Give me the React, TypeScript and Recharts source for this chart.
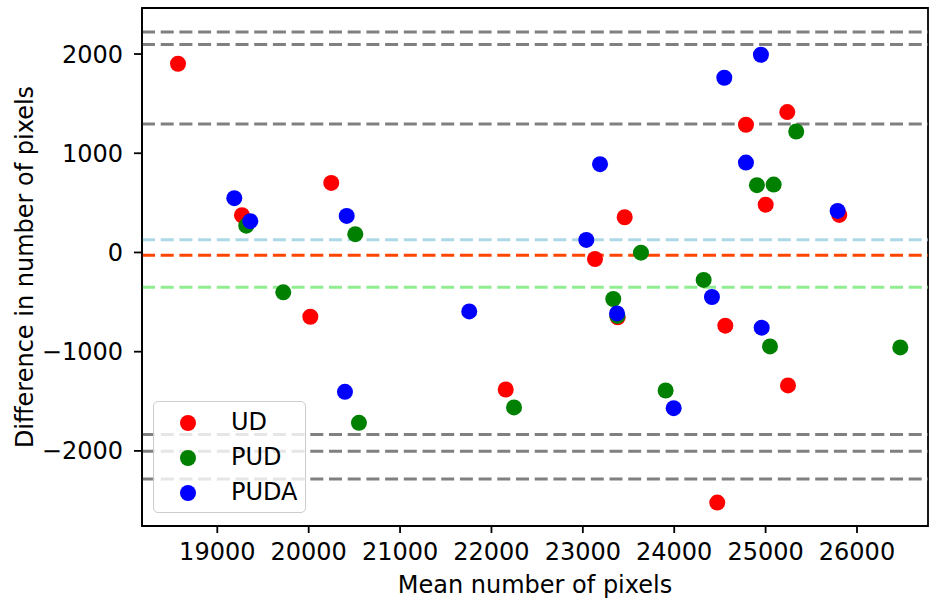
import React from 'react';
import { ScatterChart, Scatter, XAxis, YAxis, ReferenceLine, ReferenceArea, Legend, Label } from 'recharts';

const udX = [18570, 19270, 20247, 20018, 22156, 23133, 23458, 23381, 24471, 24559, 24785, 25001, 25237, 25245, 25806];
const udY = [1902, 375, 701, -648, -1381, -66, 355, -654, -2521, -738, 1287, 482, 1415, -1340, 378];

const pudX = [19317, 19722, 20510, 20550, 22247, 23333, 23378, 23636, 23906, 24322, 24905, 25048, 25088, 25335, 26474];
const pudY = [270, -402, 184, -1717, -1562, -469, -640, -2, -1391, -277, 678, -947, 684, 1219, -957];

const pudaX = [19186, 19361, 20397, 20416, 21757, 23038, 23188, 23374, 23994, 24413, 24548, 24785, 24949, 24957, 25788];
const pudaY = [547, 315, -1405, 368, -594, 126, 890, -614, -1569, -449, 1761, 906, 1993, -758, 419];

// limits of agreement lines
const grayLines = [2222, 2097, 1294, -1835, -2003, -2283];
const meanLines = [
  { y: 129, color: '#add8e6' },
  { y: -28, color: '#ff4500' },
  { y: -351, color: '#90ee90' },
];

const xTicks = [19000, 20000, 21000, 22000, 23000, 24000, 25000, 26000];
const yTicks = [-2000, -1000, 0, 1000, 2000];
const xDomain = [18176, 26777];
const yDomain = [-2757, 2464];

const series = [
  { name: 'UD', color: '#ff0000', xs: udX, ys: udY },
  { name: 'PUD', color: '#008000', xs: pudX, ys: pudY },
  { name: 'PUDA', color: '#0000ff', xs: pudaX, ys: pudaY },
];

const toPoints = (xs: number[], ys: number[]) => xs.map((x, i) => ({ x, y: ys[i] }));

const font = 'DejaVu Sans';
const fs = 24;
const tickStyle = { fill: '#000', fontSize: fs, fontFamily: font };
const fmtY = (v: number) => (v < 0 ? '\u2212' + Math.abs(v) : String(v));

const dot = (color: string) => (props: any) => <circle cx={props.cx} cy={props.cy} r={8} fill={color} />;

const LegendBox = () => (
  <div
    style={{
      position: 'relative',
      width: 151,
      height: 110,
      border: '1.5px solid #cccccc',
      borderRadius: 5,
      background: 'rgba(255,255,255,0.8)',
      fontFamily: font,
      fontSize: fs,
    }}
  >
    {series.map((s, i) => (
      <div key={s.name}>
        <div
          style={{
            position: 'absolute',
            left: 26,
            top: 13 + i * 35,
            width: 16,
            height: 16,
            borderRadius: 8,
            background: s.color,
          }}
        />
        <div style={{ position: 'absolute', left: 77, top: 6 + i * 35, lineHeight: '28px', color: '#000' }}>{s.name}</div>
      </div>
    ))}
  </div>
);

export default function App() {
  return (
    <div style={{ position: 'absolute', left: 0, top: 0 }}>
      <ScatterChart width={929} height={601} margin={{ top: 8, right: 1, bottom: 0, left: 0 }} style={{ fontFamily: font }}>
        <XAxis
          type="number"
          dataKey="x"
          domain={xDomain}
          ticks={xTicks}
          allowDataOverflow
          height={75}
          tick={tickStyle}
          tickSize={7}
          tickMargin={10}
          axisLine={{ stroke: '#000', strokeWidth: 1.8 }}
          tickLine={{ stroke: '#000', strokeWidth: 1.8 }}
        >
          <Label value="Mean number of pixels" position="insideBottom" offset={8.5} style={{ fill: '#000', fontSize: fs, fontFamily: font }} />
        </XAxis>
        <YAxis
          type="number"
          dataKey="y"
          domain={yDomain}
          ticks={yTicks}
          allowDataOverflow
          width={142}
          tick={tickStyle}
          tickFormatter={fmtY}
          tickSize={8}
          tickMargin={11}
          axisLine={{ stroke: '#000', strokeWidth: 1.8 }}
          tickLine={{ stroke: '#000', strokeWidth: 1.8 }}
        >
          <Label
            value="Difference in number of pixels"
            angle={-90}
            position="insideLeft"
            offset={24}
            style={{ fill: '#000', fontSize: fs, fontFamily: font, textAnchor: 'middle' }}
          />
        </YAxis>
        {series.map((s) => (
          <Scatter key={s.name} name={s.name} data={toPoints(s.xs, s.ys)} fill={s.color} shape={dot(s.color)} isAnimationActive={false} />
        ))}
        {grayLines.map((y) => (
          <ReferenceLine key={y} y={y} stroke="#808080" strokeWidth={3} strokeDasharray="13 5.7" />
        ))}
        {meanLines.map((l) => (
          <ReferenceLine key={l.y} y={l.y} stroke={l.color} strokeWidth={3} strokeDasharray="13 5.7" />
        ))}
        <ReferenceArea x1={xDomain[0]} x2={xDomain[1]} y1={yDomain[0]} y2={yDomain[1]} fill="none" stroke="#000" strokeWidth={1.8} />
        <Legend
          layout="horizontal"
          align="center"
          verticalAlign="middle"
          content={() => <LegendBox />}
          wrapperStyle={{ left: 153, top: 401, width: 'auto', height: 'auto' }}
        />
      </ScatterChart>
    </div>
  );
}
